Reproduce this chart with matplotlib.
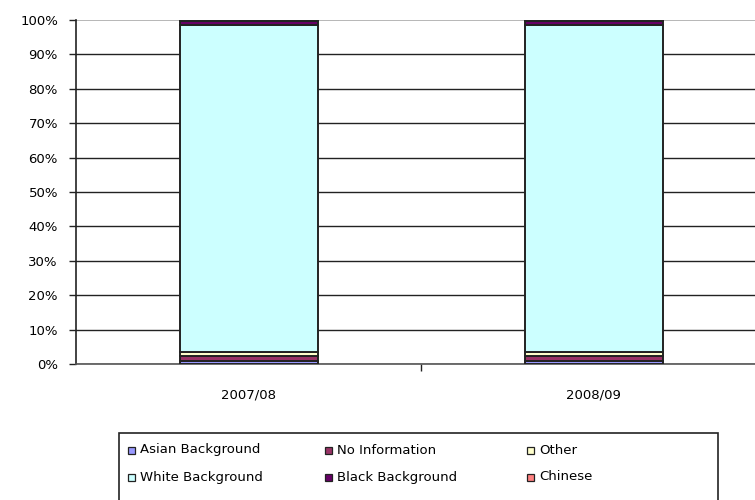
import matplotlib
matplotlib.use('Agg')
import matplotlib.pyplot as plt
from matplotlib.patches import Rectangle
import numpy as np

years = ['2007/08', '2008/09']
groups = ['Asian Background', 'No Information', 'Other',
          'White Background', 'Black Background', 'Chinese']
colors = ['#9999FF', '#993366', '#FFFFCC', '#CCFFFF', '#660066', '#FF8080']

# percentages
asian = [1.0, 1.0]
no_info = [1.2, 1.2]
other = [1.3, 1.3]
white = [95.0, 95.0]
black = [1.2, 1.2]
chinese = [0.3, 0.3]
series = [asian, no_info, other, white, black, chinese]

plt.rcParams['font.family'] = ['DejaVu Sans']
W, H = 755.0, 500.0

fig = plt.figure(figsize=(7.55, 5.0), dpi=100)
ax = fig.add_axes([76/W, 136/H, 690/W, 344/H])

x = np.arange(len(years))
bottom = np.zeros(len(years))
for name, vals, c in zip(groups, series, colors):
    ax.bar(x, vals, 0.4, bottom=bottom, color=c, edgecolor='#222222',
           linewidth=1.4, label=name, zorder=3)
    bottom += np.asarray(vals)

ax.set_xlim(-0.5, 1.5)
ax.set_ylim(0, 100)
ax.set_yticks(np.arange(0, 101, 10))
ax.set_yticklabels(['{0}%'.format(v) for v in range(0, 101, 10)], fontsize=9.5)
ax.set_xticks([0.5])
ax.set_xticklabels([''])
ax.tick_params(axis='x', length=5, width=1, color='#222222', direction='out')
ax.tick_params(axis='y', length=5, width=1, color='#222222', pad=8)
for i, y in enumerate(years):
    ax.text(x[i], -9.0, y, ha='center', va='center', fontsize=9.5)

ax.grid(axis='y', color='#222222', linewidth=1.0, zorder=0)
for s in ['top', 'right']:
    ax.spines[s].set_visible(False)
ax.spines['left'].set_color('#222222')
ax.spines['bottom'].set_color('#555555')
ax.spines['left'].set_linewidth(1.2)
ax.spines['bottom'].set_linewidth(1.2)
ax.axhline(100, color='#aaaaaa', linewidth=1.2, zorder=1)
ax.get_ygridlines()[-1].set_visible(False)

# legend box, laid out by hand like the Excel one
fig.patches.append(Rectangle((119/W, -0.01), (718-119)/W, (H-433)/H + 0.01,
                             transform=fig.transFigure, facecolor='white',
                             edgecolor='#222222', linewidth=1.2))
col_x = [128, 325, 527]
row_y = [450, 477]
for i, (name, c) in enumerate(zip(groups, colors)):
    px = col_x[i % 3]
    py = row_y[i // 3]
    fig.patches.append(Rectangle((px/W, (H - py - 3.5)/H), 7/W, 7/H,
                                 transform=fig.transFigure, facecolor=c,
                                 edgecolor='#222222', linewidth=0.9))
    fig.text((px + 12)/W, (H - py)/H, name, ha='left', va='center',
             fontsize=9.5)

fig.savefig('out.png', dpi=100)
